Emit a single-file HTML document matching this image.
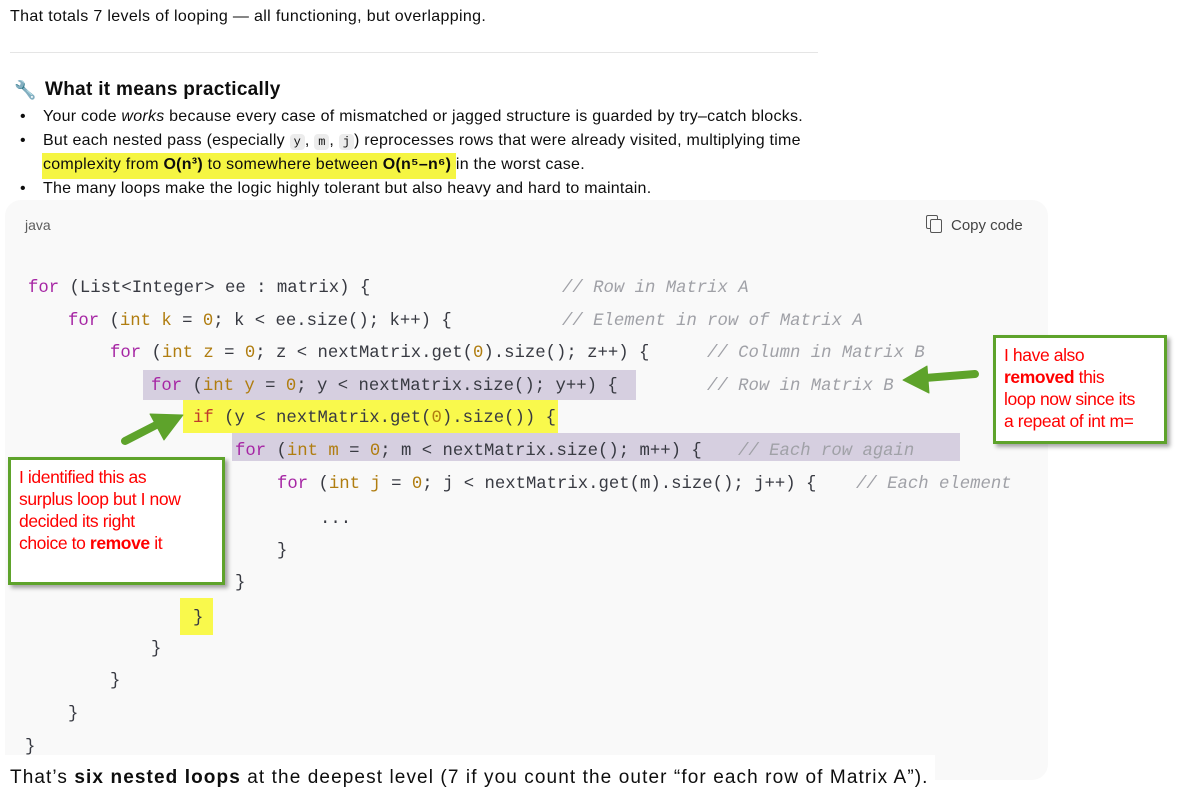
<!DOCTYPE html>
<html><head><meta charset="utf-8"><style>
body{margin:0;width:1178px;height:793px;background:#fff;position:relative;overflow:hidden;font-family:"Liberation Sans",sans-serif;color:#0d0d0d}
.a{position:absolute;white-space:pre}
.t{font-size:16px;letter-spacing:0.25px}
.code{position:absolute;left:5px;top:200px;width:1043px;height:580px;background:#f9f9f9;border-radius:16px}
.c{position:absolute;white-space:pre;font-family:"Liberation Mono",monospace;font-size:17.3px;color:#383a42;line-height:20px}
.k{color:#a626a4}.n{color:#b07d10}.r{color:#c03a2b}
.cm{position:absolute;white-space:pre;font-family:"Liberation Mono",monospace;font-size:17.3px;color:#a0a1a7;font-style:italic;line-height:20px}
.hl{position:absolute}
.box{position:absolute;background:#fff;border:3px solid #5ea32b;box-shadow:3px 3px 4px rgba(0,0,0,.35);color:#f00;font-size:17.5px;letter-spacing:-0.4px;line-height:22px;padding:6px 8px;box-sizing:border-box;white-space:nowrap}
code{font-family:"Liberation Mono",monospace;font-size:12px;background:#ececec;padding:1px 4px;border-radius:4px;letter-spacing:0}
</style></head><body>
<div class="a t" style="left:10px;top:8px;letter-spacing:0.35px">That totals 7 levels of looping — all functioning, but overlapping.</div>
<div style="position:absolute;left:10px;top:52px;width:808px;height:1px;background:#e5e5e5"></div>
<div class="a" style="left:14px;top:80px;font-size:18px;color:#bbb">🔧</div>
<div class="a" style="left:45px;top:79px;font-size:19px;letter-spacing:0.3px;font-weight:bold">What it means practically</div>
<div class="a t" style="left:20px;top:108px">•</div>
<div class="a t" style="left:43px;top:108px">Your code <i>works</i> because every case of mismatched or jagged structure is guarded by try–catch blocks.</div>
<div class="a t" style="left:20px;top:132px">•</div>
<div class="a t" style="left:43px;top:132px">But each nested pass (especially <code>y</code>, <code>m</code>, <code>j</code>) reprocesses rows that were already visited, multiplying time</div>
<div style="position:absolute;left:42px;top:153px;width:414px;height:26px;background:#f5f542"></div>
<div class="a t" style="left:43px;top:156px">complexity from <b>O(n³)</b> to somewhere between <b>O(n⁵–n⁶)</b> in the worst case.</div>
<div class="a t" style="left:20px;top:180px">•</div>
<div class="a t" style="left:43px;top:180px">The many loops make the logic highly tolerant but also heavy and hard to maintain.</div>

<div class="code"></div>
<div class="a" style="left:25px;top:217px;font-size:14px;color:#5d5d5d">java</div>
<div class="a" style="left:926px;top:215px;width:10px;height:12px;border:1.5px solid #555;border-radius:2px"></div>
<div class="a" style="left:930px;top:219px;width:10px;height:12px;border:1.5px solid #555;border-radius:2px;background:#f9f9f9"></div>
<div class="a" style="left:951px;top:217px;font-size:15px;color:#444">Copy code</div>

<div class="hl" style="left:143px;top:370px;width:493px;height:30px;background:#d6cfe0"></div>
<div class="hl" style="left:183px;top:400px;width:375px;height:33px;background:#f9f94c"></div>
<div class="hl" style="left:232px;top:433px;width:728px;height:28px;background:#d6cfe0"></div>
<div class="hl" style="left:180px;top:598px;width:33px;height:37px;background:#f9f94c"></div>

<div class="c" style="left:28px;top:279px"><span class="k">for</span> (List&lt;Integer&gt; ee : matrix) {</div>
<div class="cm" style="left:562px;top:279px">// Row in Matrix A</div>
<div class="c" style="left:68px;top:312px"><span class="k">for</span> (<span class="n">int k</span> = <span class="n">0</span>; k &lt; ee.size(); k++) {</div>
<div class="cm" style="left:562px;top:312px">// Element in row of Matrix A</div>
<div class="c" style="left:110px;top:344px"><span class="k">for</span> (<span class="n">int z</span> = <span class="n">0</span>; z &lt; nextMatrix.get(<span class="n">0</span>).size(); z++) {</div>
<div class="cm" style="left:707px;top:344px">// Column in Matrix B</div>
<div class="c" style="left:151px;top:377px"><span class="k">for</span> (<span class="n">int y</span> = <span class="n">0</span>; y &lt; nextMatrix.size(); y++) {</div>
<div class="cm" style="left:707px;top:377px">// Row in Matrix B</div>
<div class="c" style="left:193px;top:409px"><span class="r">if</span> (y &lt; nextMatrix.get(<span class="n">0</span>).size()) {</div>
<div class="c" style="left:235px;top:442px"><span class="k">for</span> (<span class="n">int m</span> = <span class="n">0</span>; m &lt; nextMatrix.size(); m++) {</div>
<div class="cm" style="left:738px;top:442px">// Each row again</div>
<div class="c" style="left:277px;top:475px"><span class="k">for</span> (<span class="n">int j</span> = <span class="n">0</span>; j &lt; nextMatrix.get(m).size(); j++) {</div>
<div class="cm" style="left:856px;top:475px">// Each element</div>
<div class="c" style="left:320px;top:510px">...</div>
<div class="c" style="left:277px;top:542px">}</div>
<div class="c" style="left:235px;top:574px">}</div>
<div class="c" style="left:193px;top:609px">}</div>
<div class="c" style="left:151px;top:640px">}</div>
<div class="c" style="left:110px;top:672px">}</div>
<div class="c" style="left:68px;top:705px">}</div>
<div class="c" style="left:25px;top:738px">}</div>

<div style="position:absolute;left:0;top:755px;width:935px;height:38px;background:#fff"></div>
<div class="a" style="left:10px;top:767px;font-size:19px;letter-spacing:1.1px">That’s <b>six nested loops</b> at the deepest level (7 if you count the outer “for each row of Matrix A”).</div>

<div class="box" style="left:8px;top:457px;width:217px;height:128px">I identified this as<br>surplus loop but I now<br>decided its right<br>choice to <b>remove</b> it</div>
<div class="box" style="left:993px;top:335px;width:174px;height:109px">I have also<br><b>removed</b> this<br>loop now since its<br>a repeat of int m=</div>

<svg style="position:absolute;left:0;top:0" width="1178" height="793">
<g fill="#5ea32b" stroke="#5ea32b" stroke-linejoin="round">
<line x1="125" y1="441" x2="160" y2="423" stroke-width="8" stroke-linecap="round"/>
<polygon points="183,415 150,414 164,440"/>
<line x1="975" y1="374" x2="925" y2="378" stroke-width="8" stroke-linecap="round"/>
<polygon points="903,380 927,366 929,393"/>
</g></svg>
</body></html>
